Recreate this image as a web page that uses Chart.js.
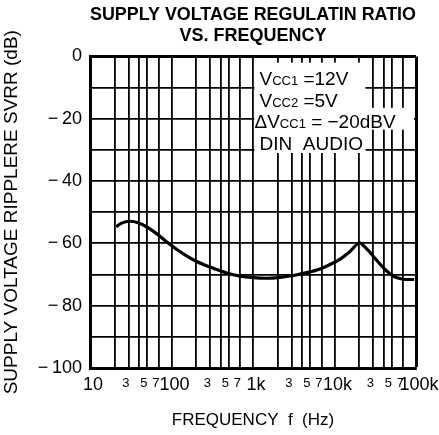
<!DOCTYPE html>
<html>
<head>
<meta charset="utf-8">
<script src="https://cdn.jsdelivr.net/npm/chart.js@4.4.0/dist/chart.umd.min.js"></script>
<style>
  html,body{margin:0;padding:0;background:#fff;}
  #wrap{width:439px;height:435px;position:relative;}
</style>
</head>
<body>
<div id="wrap"><canvas id="svrr"></canvas></div>
<script>
// curve (Hz, dB)
const freqs = [21, 24, 31, 39, 52, 69, 91, 121, 160, 204, 326, 475, 692, 1000, 1470, 2140, 3130, 4560, 6640, 9660, 12000, 15500, 20500, 23000, 26000, 30000, 36000, 43000, 52000, 62000, 75000, 95000];
const svrr  = [-54.7, -53.6, -52.9, -53.4, -55.0, -57.3, -59.9, -62.3, -64.3, -65.8, -68.0, -69.5, -70.5, -71.0, -71.2, -70.9, -70.3, -69.4, -68.2, -66.3, -64.9, -62.6, -59.8, -60.9, -62.3, -64.2, -66.6, -68.7, -70.4, -71.2, -71.6, -71.6];

// log grid: 2,3,4,5,7 in every decade
const gridFreqs = [10,20,30,40,50,70,100,200,300,400,500,700,1000,2000,3000,4000,5000,7000,10000,20000,30000,40000,50000,70000,100000];
const decadeTicks  = [10, 100, 1000, 10000, 100000];
const decadeLabels = ['10', '100', '1k', '10k', '100k'];
const minorTicks  = [30, 50, 70, 300, 500, 700, 3000, 5000, 7000, 30000, 50000, 70000];
const minorLabels = ['3','5','7','3','5','7','3','5','7','3','5','7'];

const titleLines = ['SUPPLY VOLTAGE REGULATIN RATIO', 'VS. FREQUENCY'];
const yTitle = 'SUPPLY VOLTAGE RIPPLERE SVRR (dB)';
const xTitle = 'FREQUENCY  f  (Hz)';

// conditions box, "sub" parts are the small CC1 / CC2
const legendLines = [
  [{t:'V'}, {t:'CC1', sub:true}, {t:' =12V'}],
  [{t:'V'}, {t:'CC2', sub:true}, {t:' =5V'}],
  [{t:'\u0394V'}, {t:'CC1', sub:true}, {t:' = \u221220dBV'}],
  [{t:'DIN  AUDIO'}]
];

const FONT = '"Liberation Sans", Arial, Helvetica, sans-serif';
Chart.defaults.font.family = FONT;
Chart.defaults.color = '#000';

// white knock-out behind the conditions text + the text itself
const condBox = {
  id:'condBox',
  beforeDatasetsDraw(chart){
    const {ctx, chartArea:a, scales:{x, y}} = chart;
    const x0 = x.getPixelForValue(1000) + 1.5;
    ctx.save();
    ctx.fillStyle = '#fff';
    ctx.fillRect(x0, y.getPixelForValue(-2), x.getPixelForValue(24000) - x0, y.getPixelForValue(-31) - y.getPixelForValue(-2));
    ctx.fillRect(x0, y.getPixelForValue(-16.5), a.right - 2 - x0, y.getPixelForValue(-23.5) - y.getPixelForValue(-16.5));
    ctx.fillStyle = '#000';
    ctx.textBaseline = 'alphabetic';
    ctx.textAlign = 'left';
    const base = [29, 51, 72, 94];
    legendLines.forEach((parts, i)=>{
      let cx = x0 + (i === 2 ? 0 : 5);
      parts.forEach(p=>{
        ctx.font = (p.sub ? '13px ' : '19px ') + FONT;
        ctx.fillText(p.t, cx, a.top + base[i]);
        cx += ctx.measureText(p.t).width;
      });
    });
    ctx.restore();
  },
  afterDraw(chart){
    const {ctx, chartArea:a, scales:{x}} = chart;
    ctx.save();
    ctx.fillStyle = '#000';
    ctx.textAlign = 'center';
    ctx.textBaseline = 'top';
    ctx.font = '18px ' + FONT;
    decadeTicks.forEach((v, i)=> ctx.fillText(decadeLabels[i], x.getPixelForValue(v) + 3, a.bottom + 8));
    ctx.font = '13px ' + FONT;
    minorTicks.forEach((v, i)=> ctx.fillText(minorLabels[i], x.getPixelForValue(v) - 3, a.bottom + 9));
    ctx.restore();
  }
};

new Chart(document.getElementById('svrr'), {
  type:'line',
  data:{
    datasets:[{
      data: freqs.map((f, i)=>({x:f, y:svrr[i]})),
      borderColor:'#000',
      borderWidth:3.2,
      pointRadius:0,
      cubicInterpolationMode:'monotone',
      fill:false
    }]
  },
  options:{
    responsive:true,
    maintainAspectRatio:false,
    animation:false,
    layout:{padding:{left:0, right:23, top:0, bottom:0}},
    plugins:{
      legend:{display:false},
      tooltip:{enabled:false},
      title:{
        display:true,
        text:titleLines,
        fullSize:false,
        color:'#000',
        font:{size:18, weight:'bold', lineHeight:1.15},
        padding:{top:5, bottom:10}
      }
    },
    scales:{
      x:{
        type:'logarithmic',
        min:10, max:100000,
        afterBuildTicks: s => { s.ticks = gridFreqs.map(v=>({value:v})); },
        afterFit: s => { s.height = 67; },
        ticks:{display:false},
        grid:{color:'#000', lineWidth: c => (c.tick && c.tick.value === 100000) ? 3 : 1.8, drawTicks:false},
        border:{color:'#000', width:3},
        title:{display:true, text:xTitle, color:'#000', font:{size:17}, padding:{top:0, bottom:4}}
      },
      y:{
        min:-100, max:0,
        afterFit: s => { s.width = 90; },
        ticks:{
          stepSize:10,
          padding:8,
          color:'#000',
          font:{size:18},
          callback: v => (v % 20 !== 0) ? '' : (v === 0 ? '0' : '\u2212\u2009' + Math.abs(v))
        },
        grid:{color:'#000', lineWidth: c => (c.tick && c.tick.value === 0) ? 3 : 1.8, drawTicks:false},
        border:{color:'#000', width:3},
        title:{display:true, text:yTitle, color:'#000', font:{size:19}, padding:{top:0, bottom:0}}
      }
    }
  },
  plugins:[condBox]
});
</script>
</body>
</html>
